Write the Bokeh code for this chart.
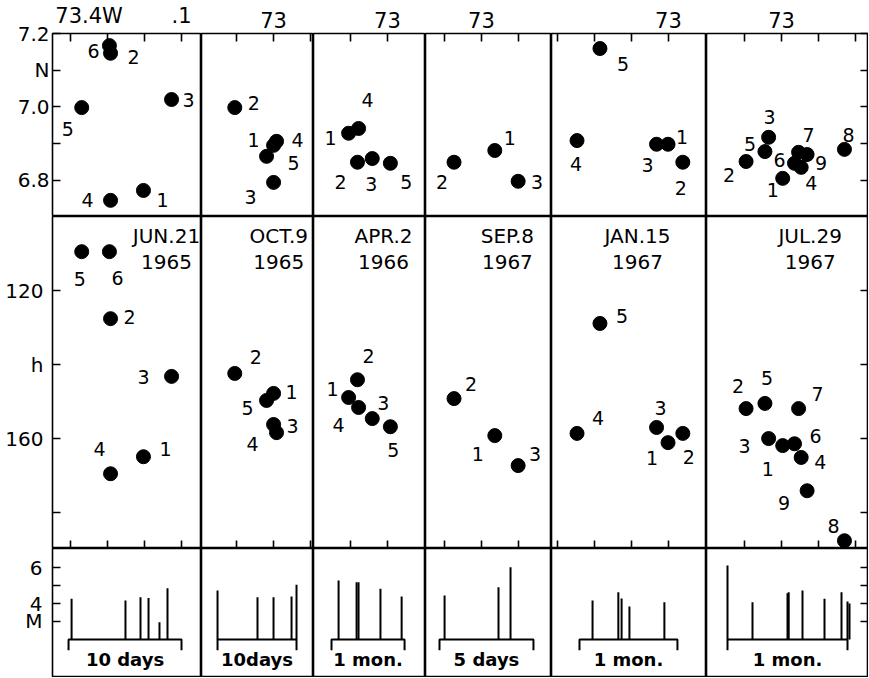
from bokeh.plotting import figure
from bokeh.layouts import gridplot
from bokeh.models import Range1d, LinearAxis, FixedTicker
from bokeh.core.properties import value
from bokeh.embed import file_html
from bokeh.resources import INLINE

FONT = "DejaVu Sans"

# ---------------- data ----------------
date_line1 = ["JUN.21", "OCT.9", "APR.2", "SEP.8", "JAN.15", "JUL.29"]
date_line2 = ["1965", "1965", "1966", "1967", "1967", "1967"]
span_label = ["10 days", "10days", "1 mon.", "5 days", "1 mon.", "1 mon."]
span_days = [10, 10, 30, 5, 30, 30]

# longitude (deg W) at left / right edge of each panel
lon_left = [73.449, 73.195, 73.200, 73.151, 73.316, 73.203]
lon_right = [73.046, 72.892, 72.897, 72.811, 72.897, 72.765]
lon_ticks = [[73.4, 73.3, 73.2, 73.1], [73.1, 73.0, 72.9], [73.1, 73.0],
             [73.1, 73.0, 72.9], [73.3, 73.2, 73.1, 73.0], [73.1, 73.0, 72.9, 72.8]]
lon_label_at = [[73.35, 73.1], [73.0], [73.0], [73.0], [73.0], [73.0]]
lon_label_text = [{73.35: "73.4W", 73.1: ".1"}, {73.0: "73"}, {73.0: "73"},
                  {73.0: "73"}, {73.0: "73"}, {73.0: "73"}]

# time (days) at left / right edge of each magnitude panel
t_left = [-1.42, -2.03, -7.4, -0.745, -8.57, -5.25]
t_right = [11.77, 12.15, 38.6, 5.96, 38.9, 35.25]

lat_range = [6.701, 7.2]
lat_ticks = [6.8, 6.9, 7.0, 7.1, 7.2]
lat_tick_text = {6.8: "6.8", 6.9: "", 7.0: "7.0", 7.1: "N", 7.2: "7.2"}
dep_range = [189.7, 100.0]
dep_ticks = [120, 140, 160, 180]
dep_tick_text = {120: "120", 140: "h", 160: "160", 180: ""}
mag_range = [-0.06, 7.06]
mag_ticks = [3, 4, 5, 6]
mag_tick_text = {3: "M", 4: "4", 5: "", 6: "6"}
mag_base = 2.0
bracket_hook = 1.4
span_label_m = 0.9

# Panel 1: JUN.21 1965
p1_num = ["1", "2", "3", "4", "5", "6"]
p1_lon = [73.203, 73.292, 73.127, 73.292, 73.370, 73.295]
p1_lat = [6.772, 7.146, 7.020, 6.745, 6.998, 7.167]
p1_dep = [164.9, 127.6, 143.2, 169.5, 109.5, 109.5]
p1_t = [0.27, 5.04, 6.37, 7.08, 8.05, 8.76]
p1_mag = [4.26, 4.17, 4.35, 4.30, 2.96, 4.85]

# Panel 2: OCT.9 1965
p2_num = ["1", "2", "3", "4", "5"]
p2_lon = [73.000, 73.105, 73.000, 72.992, 73.019]
p2_lat = [6.895, 6.998, 6.794, 6.906, 6.865]
p2_dep = [147.8, 142.4, 156.2, 158.4, 149.7]
p2_t = [0.0, 5.06, 7.09, 9.37, 10.0]
p2_mag = [4.72, 4.35, 4.35, 4.39, 5.04]

# Panel 3: APR.2 1966
p3_num = ["1", "2", "3", "4", "5"]
p3_lon = [73.105, 73.081, 73.041, 73.078, 72.992]
p3_lat = [6.928, 6.849, 6.859, 6.941, 6.846]
p3_dep = [148.9, 144.1, 154.6, 151.6, 156.8]
p3_t = [2.9, 10.3, 11.1, 20.1, 28.8]
p3_mag = [5.28, 5.18, 5.18, 4.82, 4.39]

# Panel 4: SEP.8 1967
p4_num = ["1", "2", "3"]
p4_lon = [72.964, 73.074, 72.901]
p4_lat = [6.881, 6.849, 6.797]
p4_dep = [159.2, 149.2, 167.3]
p4_t = [0.27, 3.14, 3.78]
p4_mag = [4.44, 4.91, 6.02]

# Panel 5: JAN.15 1967
p5_num = ["1", "2", "3", "4", "5"]
p5_lon = [73.001, 72.961, 73.032, 73.247, 73.185]
p5_lat = [6.898, 6.849, 6.898, 6.908, 7.159]
p5_dep = [161.1, 158.6, 157.0, 158.6, 128.9]
p5_t = [4.0, 11.9, 12.9, 15.3, 26.0]
p5_mag = [4.17, 4.63, 4.28, 3.83, 4.07]

# Panel 6: JUL.29 1967
p6_num = ["1", "2", "3", "4", "5", "6", "7", "8", "9"]
p6_lon = [72.997, 73.096, 73.035, 72.947, 73.045, 72.965, 72.954, 72.830, 72.931]
p6_lat = [6.805, 6.851, 6.917, 6.835, 6.878, 6.846, 6.876, 6.884, 6.870]
p6_dep = [161.9, 151.9, 160.0, 165.1, 150.5, 161.4, 151.9, 187.6, 174.1]
p6_t = [0.0, 6.25, 15.0, 15.3, 18.75, 24.25, 28.5, 30.0, 30.5]
p6_mag = [6.11, 4.07, 4.57, 4.63, 4.72, 4.26, 4.63, 4.11, 4.00]

# label offsets (pixels, right / down) for the event numbers
p1_top_dx = [19, 23, 17, -23, -14, -16]; p1_top_dy = [10, 4, 0, 0, 21, 5]
p1_mid_dx = [22, 19, -28, -11, -2, 8];   p1_mid_dy = [-8, -2, 1, -25, 27, 26]
p2_top_dx = [-20, 19, -23, 21, 27];      p2_top_dy = [-5, -5, 15, -1, 7]
p2_mid_dx = [18, 21, 19, -24, -19];      p2_mid_dy = [-1, -16, 1, 11, 8]
p3_top_dx = [-18, -17, -1, 9, 16];       p3_top_dy = [5, 20, 25, -28, 19]
p3_mid_dx = [-16, 11, 11, -20, 3];       p3_mid_dy = [-8, -24, -16, 18, 23]
p4_top_dx = [15, -12, 19];               p4_top_dy = [-12, 20, 1]
p4_mid_dx = [-17, 17, 17];               p4_mid_dy = [18, -15, -12]
p5_top_dx = [14, -2, -9, -1, 23];        p5_top_dy = [-7, 26, 21, 23, 15]
p5_mid_dx = [-16, 6, 4, 21, 22];         p5_mid_dy = [15, 24, -19, -15, -7]
p6_top_dx = [-10, -17, 1, 10, -15, -15, 10, 4, 14]
p6_top_dy = [12, 14, -20, 16, -8, -3, -17, -14, 8]
p6_mid_dx = [-15, -8, -24, 19, 2, 21, 19, -11, -23]
p6_mid_dy = [23, -23, 7, 5, -25, -8, -15, -15, 12]

date_frac = [0.765, 0.69, 0.625, 0.65, 0.555, 0.64]
date_dep1 = 105.4
date_dep2 = 112.2

# ---------------- layout ----------------
col_w = [149, 112, 112, 126, 155, 162]
row_h = [183, 332, 128]
LEFT = 52
TOP = 33

nums = [p1_num, p2_num, p3_num, p4_num, p5_num, p6_num]
lons = [p1_lon, p2_lon, p3_lon, p4_lon, p5_lon, p6_lon]
lats = [p1_lat, p2_lat, p3_lat, p4_lat, p5_lat, p6_lat]
deps = [p1_dep, p2_dep, p3_dep, p4_dep, p5_dep, p6_dep]
times = [p1_t, p2_t, p3_t, p4_t, p5_t, p6_t]
mags = [p1_mag, p2_mag, p3_mag, p4_mag, p5_mag, p6_mag]
top_dx = [p1_top_dx, p2_top_dx, p3_top_dx, p4_top_dx, p5_top_dx, p6_top_dx]
top_dy = [p1_top_dy, p2_top_dy, p3_top_dy, p4_top_dy, p5_top_dy, p6_top_dy]
mid_dx = [p1_mid_dx, p2_mid_dx, p3_mid_dx, p4_mid_dx, p5_mid_dx, p6_mid_dx]
mid_dy = [p1_mid_dy, p2_mid_dy, p3_mid_dy, p4_mid_dy, p5_mid_dy, p6_mid_dy]


def make_fig(r, c, xr, yr):
    p = figure(frame_width=col_w[c], frame_height=row_h[r], x_range=xr, y_range=yr,
               output_backend="svg", toolbar_location=None,
               x_axis_location=None, y_axis_location=None,
               min_border_left=LEFT if c == 0 else 0, min_border_right=0,
               min_border_top=TOP if r == 0 else 0,
               min_border_bottom=1 if r == 2 else 0,
               outline_line_color="black", outline_line_width=1.6,
               background_fill_color="white", border_fill_color="white")
    p.xgrid.visible = False
    p.ygrid.visible = False
    return p


def add_axis(p, loc, ticks, overrides, size="0px", standoff=0, tick_len=8,
             show_ticks=True):
    ax = LinearAxis(ticker=FixedTicker(ticks=ticks, minor_ticks=[]),
                    major_label_overrides=overrides)
    ax.axis_line_color = None
    ax.major_tick_in = tick_len if show_ticks else 0
    ax.major_tick_out = 0
    ax.major_tick_line_width = 1.6
    ax.major_tick_line_color = "black" if show_ticks else None
    ax.minor_tick_line_color = None
    ax.major_label_text_font = FONT
    ax.major_label_text_font_size = size
    ax.major_label_text_color = "black"
    ax.major_label_standoff = standoff
    p.add_layout(ax, loc)
    return ax


def blank(ticks):
    return {t: "" for t in ticks}


def label_text(p, x, y, txt, dx, dy, size="19px"):
    p.text(x=x, y=y, text=txt, x_offset=dx, y_offset=dy, text_align="center",
           text_baseline="middle", text_font=value(FONT), text_font_size=size,
           text_color="black")


rows = [[], [], []]
for c in range(6):
    # --- top row: epicentres ---
    p = make_fig(0, c, Range1d(lon_left[c], lon_right[c]), Range1d(*lat_range))
    # inner axis: tick marks only; outer axis: labels only
    add_axis(p, "above", lon_ticks[c], blank(lon_ticks[c]))
    add_axis(p, "above", lon_label_at[c], lon_label_text[c], size="21px",
             standoff=6, show_ticks=False)
    if c == 0:
        add_axis(p, "left", lat_ticks, lat_tick_text, size="20px", standoff=3)
    if c == 5:
        add_axis(p, "right", lat_ticks, blank(lat_ticks))
    p.scatter(lons[c], lats[c], size=14, color="black")
    label_text(p, lons[c], lats[c], nums[c], top_dx[c], top_dy[c])
    rows[0].append(p)

    # --- middle row: depth ---
    p = make_fig(1, c, Range1d(lon_left[c], lon_right[c]), Range1d(*dep_range))
    add_axis(p, "below", lon_ticks[c], blank(lon_ticks[c]))
    if c == 0:
        add_axis(p, "left", dep_ticks, dep_tick_text, size="20px", standoff=9)
    if c == 5:
        add_axis(p, "right", dep_ticks, blank(dep_ticks))
    p.scatter(lons[c], deps[c], size=14, color="black")
    label_text(p, lons[c], deps[c], nums[c], mid_dx[c], mid_dy[c])
    xc = lon_left[c] + date_frac[c] * (lon_right[c] - lon_left[c])
    label_text(p, [xc], [date_dep1], [date_line1[c]], [0], [0], size="20px")
    label_text(p, [xc], [date_dep2], [date_line2[c]], [0], [0], size="20px")
    rows[1].append(p)

    # --- bottom row: magnitude vs time ---
    p = make_fig(2, c, Range1d(t_left[c], t_right[c]), Range1d(*mag_range))
    if c == 0:
        add_axis(p, "left", mag_ticks, mag_tick_text, size="20px", standoff=10)
    if c == 5:
        add_axis(p, "right", mag_ticks, blank(mag_ticks))
    p.segment(x0=times[c], y0=[mag_base] * len(times[c]), x1=times[c], y1=mags[c],
              line_width=2, color="black")
    s = span_days[c]
    p.line([0, 0, s, s], [bracket_hook, mag_base, mag_base, bracket_hook],
           line_width=2, color="black")
    p.text(x=[s / 2], y=[span_label_m], text=[span_label[c]], text_align="center",
           text_baseline="middle", text_font=value(FONT), text_font_size="18px",
           text_font_style="bold", text_color="black")
    rows[2].append(p)

grid = gridplot(rows, toolbar_location=None)

with open("out.html", "w") as f:
    f.write(file_html(grid, INLINE))
